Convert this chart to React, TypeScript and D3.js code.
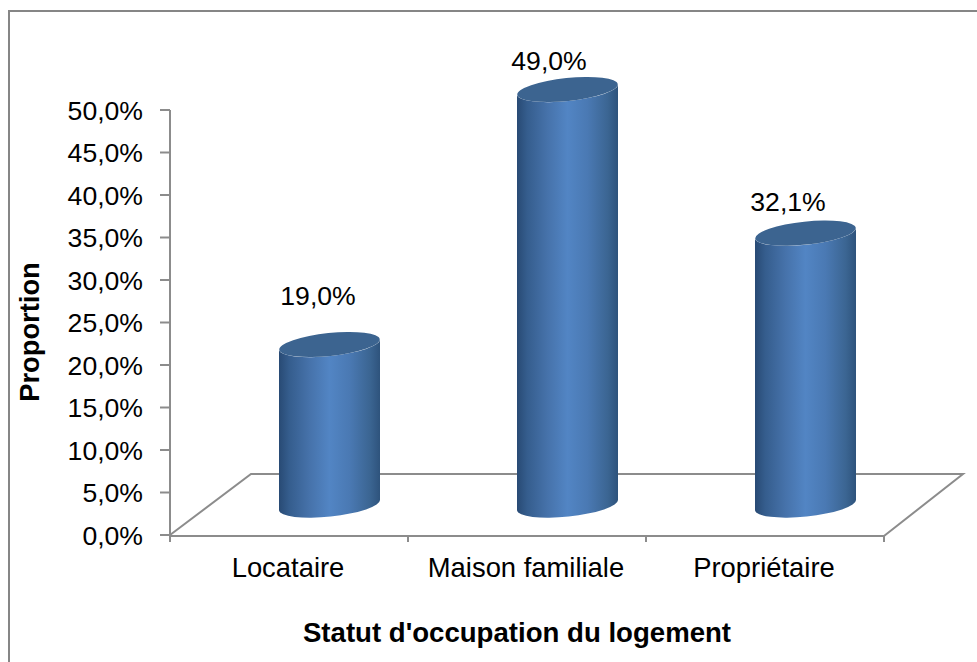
import React from "react";
import * as d3 from "d3";

const categories = ["Locataire", "Maison familiale", "Propriétaire"];
const values = [19.0, 49.0, 32.1];
const valueLabels = ["19,0%", "49,0%", "32,1%"];
const yTicks = [0, 5, 10, 15, 20, 25, 30, 35, 40, 45, 50];
const xTitle = "Statut d'occupation du logement";
const yTitle = "Proportion";

const W = 977, H = 662;
const axisX0 = 170, axisX1 = 884, axisY0 = 535, axisY1 = 110;
const depthX = 81, depthY = 61;
const GRAY = "#8c8c8c";
const FONT = "'Liberation Sans', Arial, sans-serif";

const y = d3.scaleLinear().domain([0, 50]).range([axisY0, axisY1]);
const x = d3.scaleBand<string>().domain(categories).range([axisX0, axisX1]);

export default function App() {
  const rx = 50.5, ry = 11.5, rot = -6;
  const dy = 5.3;
  const bw = x.bandwidth();
  const fmt = (t: number) => t.toFixed(1).replace(".", ",") + "%";
  const edges = [axisX0, ...categories.map((c) => (x(c) as number) + bw)];
  const labelY = [305, 70, 211];
  const labelX = [318, 549, 788];
  return (
    <svg width={W} height={H} style={{ position: "fixed", left: 0, top: 0, background: "#fff" }} fontFamily={FONT}>
      <defs>
        <linearGradient id="cyl" x1="0" x2="1" y1="0" y2="0">
          <stop offset="0" stopColor="#284a74" />
          <stop offset="0.1" stopColor="#355d8d" />
          <stop offset="0.3" stopColor="#4672aa" />
          <stop offset="0.5" stopColor="#5285c4" />
          <stop offset="0.7" stopColor="#4a79b3" />
          <stop offset="0.9" stopColor="#3b6592" />
          <stop offset="1" stopColor="#2e537c" />
        </linearGradient>
      </defs>
      <rect x={9} y={11} width={W + 20} height={H + 20} fill="#fff" stroke="#868686" strokeWidth={2} />
      {/* floor */}
      <path
        d={`M${axisX0},${axisY0} L${axisX0 + depthX},${axisY0 - depthY} L${axisX1 + depthX - 2},${axisY0 - depthY} L${axisX1},${axisY0 + 1}`}
        fill="none" stroke={GRAY} strokeWidth={2}
      />
      {/* axes */}
      <line x1={axisX0} x2={axisX0} y1={axisY1} y2={axisY0 + 7} stroke={GRAY} strokeWidth={2} />
      <line x1={axisX0} x2={axisX1} y1={axisY0 + 1} y2={axisY0 + 1} stroke={GRAY} strokeWidth={2} />
      {yTicks.map((t) => (
        <g key={t}>
          <line x1={axisX0 - 10} x2={axisX0} y1={y(t)} y2={y(t)} stroke={GRAY} strokeWidth={2} />
          <text x={143} y={y(t)} dy="0.36em" textAnchor="end" fontSize={26.6} fill="#000">{fmt(t)}</text>
        </g>
      ))}
      {edges.map((e) => (
        <line key={e} x1={e} x2={e} y1={axisY0} y2={axisY0 + 7} stroke={GRAY} strokeWidth={2} />
      ))}
      {/* cylinders */}
      {categories.map((c, i) => {
        const cx = (x(c) as number) + bw / 2 + depthX / 2;
        const by = y(0) - depthY / 2 + 0.5;
        const ty = y(values[i]) - depthY / 2 + 1.5;
        const l = cx - rx, r = cx + rx;
        const side = `M${l},${ty + dy} L${l},${by + dy} A${rx},${ry} ${rot} 0 0 ${r},${by - dy} L${r},${ty - dy} A${rx},${ry} ${rot} 0 1 ${l},${ty + dy} Z`;
        return (
          <g key={c}>
            <path d={side} fill="url(#cyl)" />
            <ellipse cx={cx} cy={ty} rx={rx} ry={ry} transform={`rotate(${rot} ${cx} ${ty})`} fill="#3c6490" />
            <text x={labelX[i]} y={labelY[i]} textAnchor="middle" fontSize={26.6} fill="#000">{valueLabels[i]}</text>
          </g>
        );
      })}
      {/* category labels */}
      {categories.map((c) => (
        <text key={c} x={(x(c) as number) + bw / 2 - 1} y={577} textAnchor="middle" fontSize={27.4} fill="#000">{c}</text>
      ))}
      <text x={517} y={642} textAnchor="middle" fontSize={27.6} fontWeight="bold" fill="#000">{xTitle}</text>
      <text transform="translate(39,332) rotate(-90)" textAnchor="middle" fontSize={27.3} fontWeight="bold" fill="#000">{yTitle}</text>
    </svg>
  );
}
